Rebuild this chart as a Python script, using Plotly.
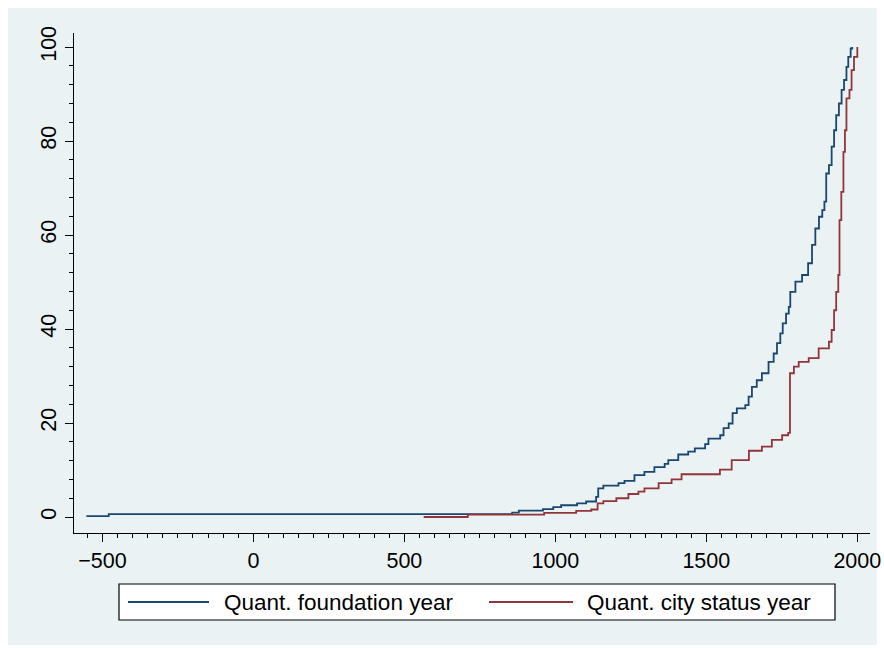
import plotly.graph_objects as go

# Quantile curves: year at which each cumulative share (%) of cities is reached
found_year = [-553, -479, 857, 879, 959, 993, 1019, 1072, 1102, 1135, 1142, 1159, 1209,
              1229, 1262, 1295, 1328, 1362, 1374, 1407, 1440, 1462, 1496, 1507, 1546,
              1557, 1574, 1587, 1601, 1629, 1640, 1651, 1667, 1684, 1706, 1723, 1734,
              1745, 1753, 1764, 1773, 1778, 1795, 1817, 1837, 1850, 1861, 1873, 1884,
              1891, 1897, 1906, 1915, 1923, 1930, 1939, 1948, 1956, 1964, 1970, 1978, 1983]
found_pct = [0.2, 0.6, 0.95, 1.35, 1.7, 2.1, 2.5, 2.9, 3.3, 4.3, 6.1, 6.7, 7.2,
             7.7, 8.9, 9.6, 10.6, 11.3, 12.1, 13.3, 13.9, 14.6, 15.5, 16.7, 17.4,
             18.9, 19.9, 22.1, 23.1, 23.8, 25.6, 27.7, 29.1, 30.6, 33.0, 34.8, 37.0,
             39.1, 41.2, 43.3, 44.7, 47.9, 50.1, 51.5, 54.0, 57.9, 61.4, 63.9, 65.3,
             67.1, 73.1, 74.9, 78.8, 82.3, 85.5, 88.0, 90.9, 93.0, 95.8, 97.9, 99.7, 100.0]

status_year = [564, 710, 963, 1069, 1119, 1140, 1159, 1202, 1242, 1275, 1295, 1342, 1385,
               1418, 1545, 1584, 1641, 1684, 1717, 1751, 1771, 1777, 1790, 1806, 1839,
               1872, 1906, 1915, 1923, 1930, 1937, 1941, 1947, 1954, 1959, 1964, 1974,
               1981, 1989, 2000]
status_pct = [0.0, 0.5, 0.9, 1.3, 1.6, 2.9, 3.4, 4.0, 4.9, 5.4, 6.1, 7.2, 8.0,
              9.1, 10.1, 12.1, 14.1, 15.0, 16.4, 17.4, 17.9, 30.6, 32.0, 33.0, 33.8,
              35.9, 37.3, 39.8, 44.0, 47.9, 51.5, 63.2, 69.2, 77.7, 82.3, 89.1, 90.9,
              95.1, 97.9, 100.0]

series_names = ["Quant. foundation year", "Quant. city status year"]
series_colors = ["#1A476F", "#90353B"]

x_ticks = [-500, 0, 500, 1000, 1500, 2000]
y_ticks = [0, 20, 40, 60, 80, 100]

FONT = "Liberation Sans, Arial, sans-serif"
BG = "#EAF2F3"

fig = go.Figure()
for xs, ys, name, col in [(found_year, found_pct, series_names[0], series_colors[0]),
                          (status_year, status_pct, series_names[1], series_colors[1])]:
    fig.add_trace(go.Scatter(x=xs, y=ys, mode="lines", name=name,
                             line=dict(color=col, width=1.8, shape="hv"),
                             showlegend=False))

# plot-area geometry in pixels (used to place the framed legend below the axes)
L, R, T, B = 74, 870, 33, 533
W, H = R - L, B - T


def px(x):
    return (x - L) / W


def py(y):
    return (B - y) / H


shapes = [
    # outer tinted panel
    dict(type="rect", xref="paper", yref="paper", layer="below",
         x0=px(8), x1=px(877), y0=py(645), y1=py(8),
         fillcolor=BG, line=dict(width=0)),
    # legend frame
    dict(type="rect", xref="paper", yref="paper",
         x0=px(119), x1=px(835), y0=py(620), y1=py(584),
         fillcolor="white", line=dict(color="black", width=1.2)),
    dict(type="line", xref="paper", yref="paper",
         x0=px(128), x1=px(209), y0=py(602), y1=py(602),
         line=dict(color=series_colors[0], width=1.8)),
    dict(type="line", xref="paper", yref="paper",
         x0=px(489), x1=px(573), y0=py(602), y1=py(602),
         line=dict(color=series_colors[1], width=1.8)),
]

annotations = [
    dict(xref="paper", yref="paper", x=px(222), y=py(602), text=series_names[0],
         showarrow=False, xanchor="left", yanchor="middle",
         font=dict(family=FONT, size=22.5, color="black")),
    dict(xref="paper", yref="paper", x=px(585), y=py(602), text=series_names[1],
         showarrow=False, xanchor="left", yanchor="middle",
         font=dict(family=FONT, size=22.5, color="black")),
]

fig.update_layout(
    width=884, height=648,
    margin=dict(l=L, r=884 - R, t=T, b=648 - B, autoexpand=False),
    paper_bgcolor="white", plot_bgcolor="white",
    font=dict(family=FONT, size=21, color="black"),
    shapes=shapes, annotations=annotations,
    xaxis=dict(range=[-594, 2042], tickvals=x_ticks, ticks="outside", ticklen=8,
               tickwidth=1.2, tickcolor="black", showline=True, linecolor="black",
               linewidth=1.2, showgrid=False, zeroline=False, automargin=False,
               minor=dict(dtick=50, tick0=0, ticks="outside", ticklen=4,
                          tickcolor="black", tickwidth=1.2, showgrid=False),
               tickfont=dict(family=FONT, size=21.5, color="black")),
    yaxis=dict(range=[-3.4, 103.0], tickvals=y_ticks, ticks="outside", ticklen=8,
               tickwidth=1.2, tickcolor="black", showline=True, linecolor="black",
               linewidth=1.2, showgrid=True, gridcolor=BG, gridwidth=1.2,
               zeroline=False, tickangle=-90, automargin=False,
               minor=dict(dtick=4, tick0=0, ticks="outside", ticklen=4,
                          tickcolor="black", tickwidth=1.2, showgrid=False),
               tickfont=dict(family=FONT, size=21.5, color="black")),
)

fig.write_html("out.html")
